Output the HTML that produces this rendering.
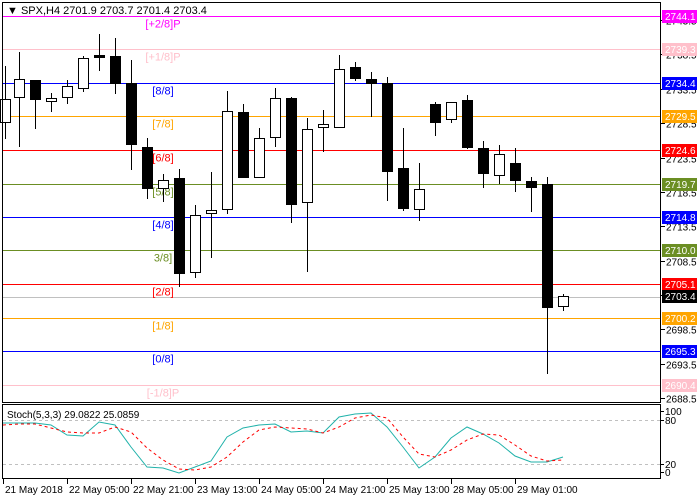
<!DOCTYPE html>
<html><head><meta charset="utf-8"><style>
html,body{margin:0;padding:0;background:#fff}
svg{display:block;font-family:"Liberation Sans",Tahoma,sans-serif;font-size:10px}
</style></head><body>
<svg id="s" width="700" height="500" xmlns="http://www.w3.org/2000/svg">
<rect width="700" height="500" fill="#fff"/>
</svg>
<script>
const s=document.getElementById('s');const NS='http://www.w3.org/2000/svg';
function el(t,a,txt){const e=document.createElementNS(NS,t);for(const k in a)e.setAttribute(k,a[k]);if(txt!==undefined)e.textContent=txt;s.appendChild(e);return e;}
const Y=p=>16+(2744.1-p)*6.872;
const lv=[[2744.1,'#ff00ff','[+2/8]P','#fff'],[2739.3,'#ffc0cb','[+1/8]P','#fff'],[2734.4,'#0000ff','[8/8]','#fff'],[2729.5,'#ffa500','[7/8]','#fff'],[2724.6,'#ff0000','[6/8]','#fff'],[2719.7,'#6b8e23','[5/8]','#fff'],[2714.8,'#0000ff','[4/8]','#fff'],[2710.0,'#6b8e23','3/8]','#fff'],[2705.1,'#ff0000','[2/8]','#fff'],[2700.2,'#ffa500','[1/8]','#fff'],[2695.3,'#0000ff','[0/8]','#fff'],[2690.4,'#ffc0cb','[-1/8]P','#fff']];
el('line',{x1:3,x2:661,y1:297.5,y2:297.5,stroke:'#c0c0c0'});
lv.forEach(l=>{const y=Math.round(Y(l[0]))+0.5;el('line',{x1:3,x2:661,y1:y,y2:y,stroke:l[1]});el('text',{x:163,y:y+11,fill:l[1],'text-anchor':'middle','font-size':'11'},l[2]);});
const c=[[5,99,122,66,139,1],[19,79,97,52,147,1],[35,80,99,80,129,0],[51,98,101,93,112,1],[67,86,97,80,104,1],[83,58,88,56,92,1],[99,55,57,34,71,0],[115,56,83,38,94,0],[131,83,144,60,170,0],[147,147,188,138,199,0],[163,180,188,174,202,1],[179,178,273,169,287,0],[195,215,272,205,278,1],[211,210,213,172,258,1],[227,111,209,91,214,1],[243,112,177,104,178,0],[259,138,177,128,178,1],[275,98,137,88,147,1],[291,98,204,97,223,0],[307,129,202,118,272,1],[323,124,127,110,152,1],[339,69,127,55,127,1],[355,67,78,62,81,0],[371,79,83,72,117,0],[387,83,171,77,201,0],[403,168,208,128,211,0],[419,189,209,163,221,1],[435,104,122,102,136,0],[451,102,119,102,123,1],[467,100,147,95,149,0],[483,148,173,141,188,0],[499,154,175,145,184,1],[515,163,180,148,192,0],[531,181,187,177,212,0],[547,184,307,177,374,0],[563,296,306,294,311,1]];
c.forEach(k=>{const x=k[0]+0.5;el('line',{x1:x,x2:x,y1:k[3],y2:k[4],stroke:'#000'});
el('rect',{x:k[0]-4.5,y:k[1]+0.5,width:10,height:Math.max(1,k[2]-k[1]),fill:k[5]?'#fff':'#000',stroke:'#000'});});
el('rect',{x:2.5,y:2.5,width:658,height:400,fill:'none',stroke:'#000'});
el('rect',{x:2.5,y:404.5,width:658,height:74,fill:'none',stroke:'#000'});
el('rect',{x:2,y:0,width:659,height:2,fill:'#fff'});
el('text',{x:7,y:14,'font-size':'11',fill:'#000'},'\u25BC SPX,H4  2701.9 2703.7 2701.4 2703.4');
[2743.5,2738.5,2733.5,2728.5,2723.5,2718.5,2713.5,2708.5,2703.5,2698.5,2693.5,2688.5].forEach(p=>{const y=Math.round(Y(p))+0.5;el('line',{x1:661,x2:665,y1:y,y2:y,stroke:'#000'});el('text',{x:666,y:y+4,fill:'#000'},p.toFixed(1));});
lv.concat([[2703.4,'#000','','#fff']]).forEach(l=>{const y=Math.round(Y(l[0]));el('rect',{x:662,y:y-6,width:35,height:13,fill:l[1]});el('text',{x:665,y:y+4,fill:l[3]},l[0].toFixed(1));});
el('line',{x1:3,x2:661,y1:420.5,y2:420.5,stroke:'#c0c0c0','stroke-dasharray':'3,3'});
el('line',{x1:3,x2:661,y1:464.5,y2:464.5,stroke:'#c0c0c0','stroke-dasharray':'3,3'});
el('text',{x:7,y:418,fill:'#000'},'Stoch(5,3,3) 29.0822 25.0859');
[['100',411],['80',420],['20',464],['0',472]].forEach(t=>{el('text',{x:665,y:t[1]+4,fill:'#000'},t[0]);el('line',{x1:661,x2:664,y1:t[1]+.5,y2:t[1]+.5,stroke:'#000'});});
const xs=[3,19,35,51,67,83,99,115,131,147,163,179,195,211,227,243,259,275,291,307,323,339,355,371,387,403,419,435,451,467,483,499,515,531,547,563];
const tm=[423,423,423,425,435,436,422,425,447,467,468,473,467,461,437,428,425,424,432,431,433,417,414,413,427,447,468,457,438,427,434,443,456,462,462,457];
const rd=[425,424,424,428,432,433,433,427,432,448,460,469,470,467,457,442,430,427,428,429,433,427,418,415,418,437,454,457,450,440,434,435,445,456,461,460];
el('polyline',{points:xs.map((x,i)=>x+','+tm[i]).join(' '),fill:'none',stroke:'#20b2aa'});
el('polyline',{points:xs.map((x,i)=>x+','+rd[i]).join(' '),fill:'none',stroke:'#ff0000','stroke-dasharray':'3,3'});
[[3,'21 May 2018'],[67,'22 May 05:00'],[131,'22 May 21:00'],[195,'23 May 13:00'],[259,'24 May 05:00'],[323,'24 May 21:00'],[387,'25 May 13:00'],[451,'28 May 05:00'],[515,'29 May 01:00']].forEach(t=>{el('line',{x1:t[0]+.5,x2:t[0]+.5,y1:479,y2:484,stroke:'#000'});el('text',{x:t[0]+2,y:493,fill:'#000'},t[1]);});
</script>
</body></html>
